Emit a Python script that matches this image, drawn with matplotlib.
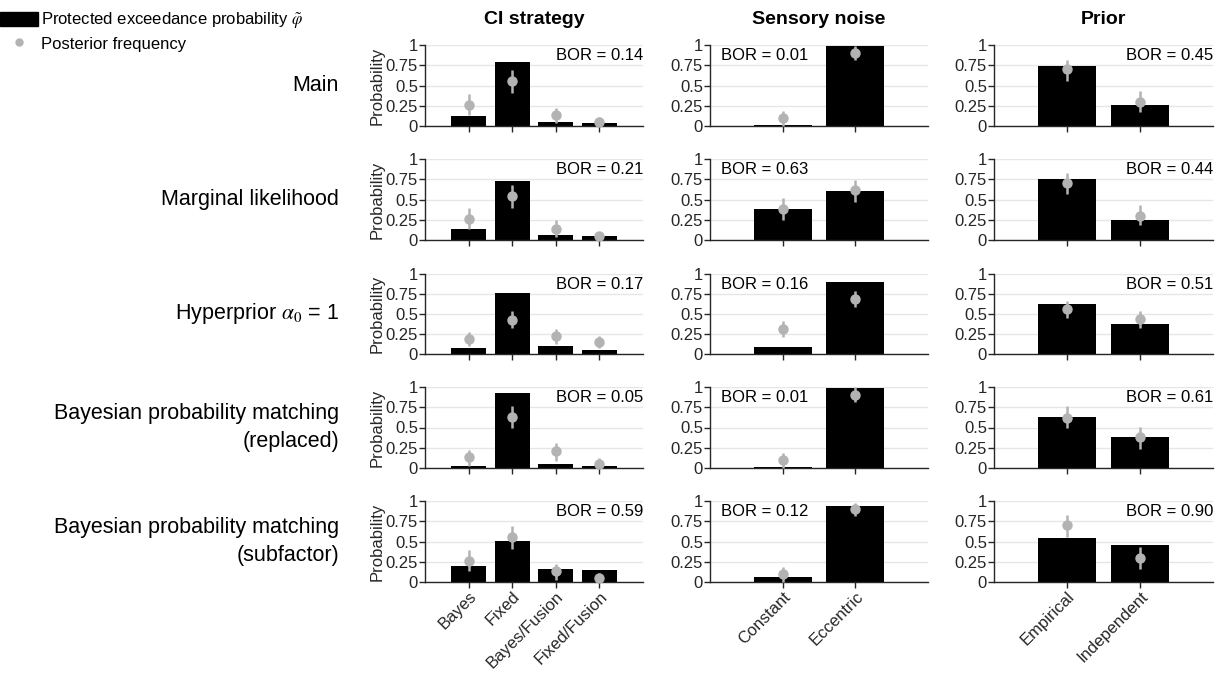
import matplotlib
matplotlib.use('Agg')
import matplotlib.pyplot as plt
from matplotlib.patches import Patch
from matplotlib.lines import Line2D
import numpy as np

plt.rcParams['font.family'] = ['Liberation Sans', 'DejaVu Sans']
plt.rcParams['mathtext.fontset'] = 'stix'

# factor names and levels
factors = ['CI strategy', 'Sensory noise', 'Prior']
ci_levels = ['Bayes', 'Fixed', 'Bayes/Fusion', 'Fixed/Fusion']
noise_levels = ['Constant', 'Eccentric']
prior_levels = ['Empirical', 'Independent']

row_labels = ['Main', 'Marginal likelihood', r'Hyperprior $\alpha_0$ = 1',
              'Bayesian probability matching\n(replaced)',
              'Bayesian probability matching\n(subfactor)']

# protected exceedance probabilities (bars)
ci_pxp = [[0.12, 0.79, 0.05, 0.04],
          [0.14, 0.73, 0.06, 0.05],
          [0.07, 0.76, 0.10, 0.05],
          [0.02, 0.93, 0.045, 0.02],
          [0.20, 0.51, 0.16, 0.15]]
noise_pxp = [[0.01, 0.99],
             [0.38, 0.61],
             [0.09, 0.90],
             [0.01, 0.99],
             [0.06, 0.94]]
prior_pxp = [[0.74, 0.26],
             [0.75, 0.25],
             [0.63, 0.38],
             [0.63, 0.38],
             [0.54, 0.46]]

# posterior frequencies (points) with lower / upper bounds
ci_freq = [[0.26, 0.55, 0.13, 0.05],
           [0.26, 0.54, 0.14, 0.05],
           [0.19, 0.43, 0.22, 0.15],
           [0.13, 0.63, 0.21, 0.05],
           [0.26, 0.55, 0.13, 0.045]]
ci_lo = [[0.14, 0.41, 0.04, 0.0],
         [0.13, 0.40, 0.04, 0.0],
         [0.10, 0.33, 0.13, 0.07],
         [0.03, 0.49, 0.09, 0.0],
         [0.14, 0.41, 0.03, 0.0]]
ci_hi = [[0.40, 0.69, 0.22, 0.11],
         [0.39, 0.68, 0.25, 0.10],
         [0.27, 0.54, 0.31, 0.23],
         [0.22, 0.77, 0.31, 0.12],
         [0.39, 0.69, 0.22, 0.11]]

noise_freq = [[0.10, 0.90],
              [0.38, 0.62],
              [0.31, 0.69],
              [0.10, 0.90],
              [0.10, 0.90]]
noise_lo = [[0.0, 0.81],
            [0.25, 0.47],
            [0.21, 0.59],
            [0.0, 0.81],
            [0.0, 0.81]]
noise_hi = [[0.19, 0.99],
            [0.52, 0.74],
            [0.41, 0.79],
            [0.19, 1.0],
            [0.18, 0.98]]

prior_freq = [[0.70, 0.30],
              [0.70, 0.30],
              [0.56, 0.44],
              [0.62, 0.38],
              [0.70, 0.30]]
prior_lo = [[0.56, 0.17],
            [0.57, 0.18],
            [0.455, 0.33],
            [0.49, 0.23],
            [0.56, 0.165]]
prior_hi = [[0.82, 0.43],
            [0.83, 0.43],
            [0.66, 0.54],
            [0.76, 0.51],
            [0.83, 0.43]]

bor = [[0.14, 0.01, 0.45],
       [0.21, 0.63, 0.44],
       [0.17, 0.16, 0.51],
       [0.05, 0.01, 0.61],
       [0.59, 0.12, 0.90]]

columns = [
    (ci_levels, ci_pxp, ci_freq, ci_lo, ci_hi),
    (noise_levels, noise_pxp, noise_freq, noise_lo, noise_hi),
    (prior_levels, prior_pxp, prior_freq, prior_lo, prior_hi),
]

W, H = 1220, 673
fig = plt.figure(figsize=(W / 100, H / 100), dpi=100)

# axes boxes in pixels
col_x = [(425, 643), (710, 928), (994, 1213)]
row_y = [(45, 126), (159, 240), (274, 354), (387, 468), (501, 582)]

axis_col = '#262626'
pt_col = '#b3b3b3'

for r, (y0, y1) in enumerate(row_y):
    for c, (x0, x1) in enumerate(col_x):
        ax = fig.add_axes([x0 / W, 1 - y1 / H, (x1 - x0) / W, (y1 - y0) / H])
        levels, pxp, freq, lo, hi = columns[c]
        n = len(levels)
        xs = np.arange(1, n + 1)
        ax.bar(xs, pxp[r], width=0.8, color='black', zorder=2)
        f = np.array(freq[r])
        yerr = [f - np.array(lo[r]), np.array(hi[r]) - f]
        ax.errorbar(xs, f, yerr=yerr, fmt='o', color=pt_col, ms=6.5,
                    elinewidth=1.8, capsize=0, zorder=3, clip_on=False)
        ax.set_xlim(0, n + 1)
        ax.set_ylim(0, 1)
        ax.set_yticks([0, 0.25, 0.5, 0.75, 1])
        ax.set_yticklabels(['0', '0.25', '0.5', '0.75', '1'])
        ax.set_xticks(xs)
        ax.yaxis.grid(True, color='#e6e6e6', linewidth=1)
        ax.set_axisbelow(True)
        for s in ['top', 'right']:
            ax.spines[s].set_visible(False)
        for s in ['left', 'bottom']:
            ax.spines[s].set_color(axis_col)
            ax.spines[s].set_linewidth(1)
        ax.tick_params(direction='out', length=4, width=1, color=axis_col,
                       labelsize=12, labelcolor='#262626', pad=1)
        if r == len(row_y) - 1:
            ax.set_xticklabels(levels, rotation=45, ha='right',
                               rotation_mode='anchor', fontsize=12)
        else:
            ax.set_xticklabels([])
        if c == 0:
            ax.set_ylabel('Probability', fontsize=12, labelpad=1, color='#262626')
        # BOR annotation: left for sensory noise, right otherwise
        if c == 1:
            ax.text(0.05, 0.96, f'BOR = {bor[r][c]:.2f}', transform=ax.transAxes,
                    ha='left', va='top', fontsize=12)
        else:
            ax.text(1.0, 0.96, f'BOR = {bor[r][c]:.2f}', transform=ax.transAxes,
                    ha='right', va='top', fontsize=12)
        if r == 0:
            ax.set_title(factors[c], fontsize=14, fontweight='bold', pad=15)
    fig.text(339 / W, 1 - ((y0 + y1) / 2) / H, row_labels[r], ha='right',
             va='center', fontsize=15.5, multialignment='right', linespacing=1.5)

handles = [Patch(facecolor='black', edgecolor='black'),
           Line2D([], [], marker='o', color=pt_col, linestyle='none', ms=5)]
fig.legend(handles, [r'Protected exceedance probability $\tilde{\varphi}$',
                     'Posterior frequency'],
           loc='upper left', bbox_to_anchor=(0, 1 - 11 / H), frameon=False,
           borderpad=0, borderaxespad=0, handlelength=2.3, handleheight=0.9,
           handletextpad=0.15, labelspacing=0.3, fontsize=12)

fig.savefig('out.png', dpi=100)
